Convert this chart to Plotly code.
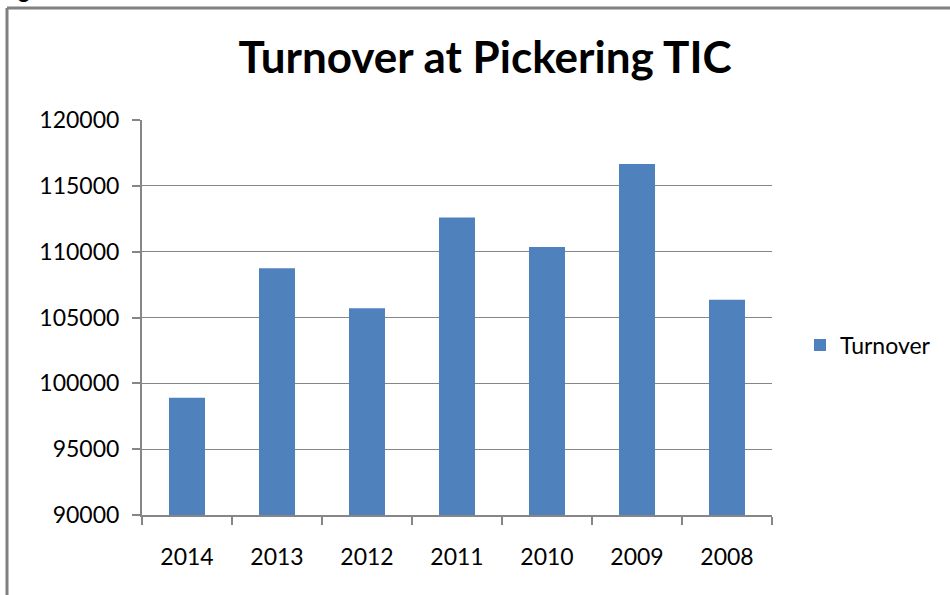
import plotly.graph_objects as go

years = ["2014", "2013", "2012", "2011", "2010", "2009", "2008"]
turnover = [98900, 108750, 105700, 112600, 110350, 116650, 106350]
y_ticks = [90000, 95000, 100000, 105000, 110000, 115000, 120000]

W, H = 950, 595
L, R, T, B = 142, 178, 120, 80
pw, ph = W - L - R, H - T - B

def px_x(x):
    return (x - L) / pw

def px_y(y):
    return (H - B - y) / ph

FONT = "Lato"
GRAY = "#868686"

fig = go.Figure()
fig.add_trace(go.Bar(x=years, y=turnover, name="Turnover",
                     marker=dict(color="#4F81BD", line=dict(width=0))))

fig.update_layout(
    width=W, height=H,
    margin=dict(l=L, r=R, t=T, b=B),
    paper_bgcolor="white", plot_bgcolor="white",
    bargap=0.6,
    showlegend=True,
    font=dict(family=FONT, size=23, color="black"),
    title=dict(text="<b>Turnover at Pickering TIC</b>", x=px_x(485), xanchor="center",
               xref="paper",
               y=1 - 58 / H, yanchor="middle",
               font=dict(family=FONT, size=44, color="black")),
    legend=dict(x=px_x(800), y=px_y(345), xanchor="left", yanchor="middle",
                font=dict(family=FONT, size=23), itemwidth=30,
                bgcolor="rgba(0,0,0,0)"),
    xaxis=dict(type="category", showline=True, linecolor=GRAY, linewidth=2,
               ticks="outside", tickson="boundaries", ticklen=8, tickcolor=GRAY,
               tickwidth=2, showgrid=False, tickfont=dict(size=23, family=FONT),
               ticklabelstandoff=20),
    yaxis=dict(range=[y_ticks[0], y_ticks[-1]], tickvals=y_ticks,
               ticktext=[str(v) for v in y_ticks],
               showline=True, linecolor=GRAY, linewidth=2,
               ticks="outside", ticklen=8, tickcolor=GRAY, tickwidth=2,
               showgrid=True, gridcolor=GRAY, gridwidth=1,
               zeroline=False, tickfont=dict(size=23, family=FONT),
               ticklabelstandoff=8),
    shapes=[
        dict(type="line", xref="paper", yref="paper",
             x0=px_x(7), x1=px_x(W + 5), y0=px_y(8), y1=px_y(8),
             line=dict(color="#808080", width=3)),
        dict(type="line", xref="paper", yref="paper",
             x0=px_x(7), x1=px_x(7), y0=px_y(8), y1=px_y(H + 5),
             line=dict(color="#808080", width=3)),
    ],
    annotations=[
        dict(text="<b>Fig. 1</b>", xref="paper", yref="paper",
             x=px_x(-2), y=px_y(5), xanchor="left", yanchor="bottom",
             showarrow=False, font=dict(family=FONT, size=22, color="black")),
    ],
)

fig.write_html("out.html", config={"displayModeBar": False},
               post_script="document.body.style.margin='0px';")
